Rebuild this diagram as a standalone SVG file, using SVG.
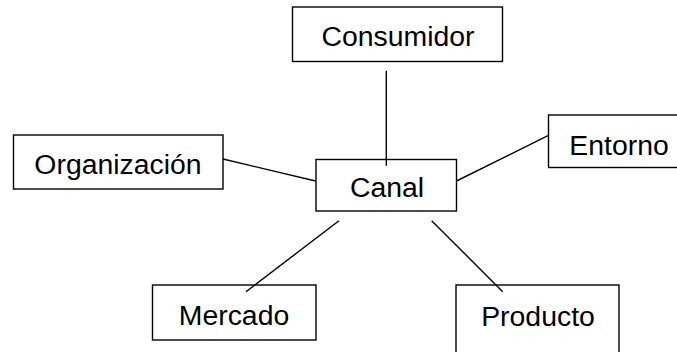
<svg xmlns="http://www.w3.org/2000/svg" width="677" height="352" viewBox="0 0 677 352">
<style>
.box{fill:#fff;stroke:#000;stroke-width:1.4}
.lbl{font-family:"Liberation Sans",Arial,sans-serif;font-size:28.4px;fill:#000;text-anchor:middle}
.conn line{stroke:#000;stroke-width:1.4}
</style>
<rect width="677" height="352" fill="#fff"/>
<g id="consumidor">
<rect class="box" x="292.5" y="7" width="210" height="54.5"/>
<text class="lbl" x="398" y="45.5">Consumidor</text>
</g>
<g id="canal">
<rect class="box" x="316" y="159.5" width="140.5" height="51.5"/>
<text class="lbl" x="387" y="197">Canal</text>
</g>
<g id="organizacion">
<rect class="box" x="13.5" y="135" width="209.5" height="54"/>
<text class="lbl" x="118" y="174">Organización</text>
</g>
<g id="entorno">
<rect class="box" x="548.5" y="115" width="141" height="52.5"/>
<text class="lbl" x="619" y="155">Entorno</text>
</g>
<g id="mercado">
<rect class="box" x="152.5" y="285" width="163.5" height="55"/>
<text class="lbl" x="234" y="325">Mercado</text>
</g>
<g id="producto">
<rect class="box" x="456" y="285" width="163" height="75"/>
<text class="lbl" x="538" y="326">Producto</text>
</g>
<g id="connectors" class="conn">
<line x1="386.3" y1="70.7" x2="386.3" y2="165.7"/>
<line x1="223" y1="159" x2="315.5" y2="181"/>
<line x1="456.5" y1="181" x2="548" y2="135.7"/>
<line x1="339" y1="220.7" x2="246" y2="291.7"/>
<line x1="431.7" y1="220.7" x2="502.7" y2="291.7"/>
</g>
</svg>
